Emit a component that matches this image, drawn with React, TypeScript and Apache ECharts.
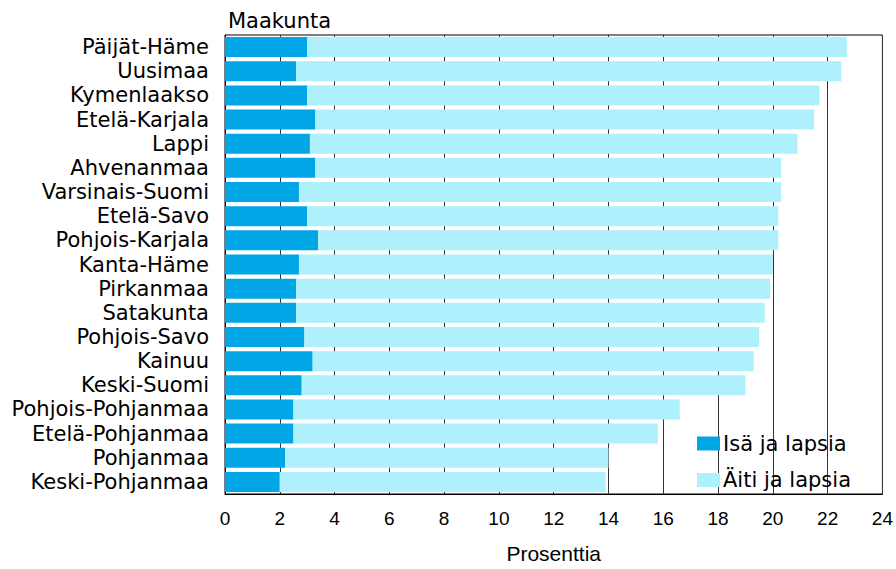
import React, { useEffect, useRef } from "react";
import * as echarts from "echarts";

const categories = [
  "Päijät-Häme",
  "Uusimaa",
  "Kymenlaakso",
  "Etelä-Karjala",
  "Lappi",
  "Ahvenanmaa",
  "Varsinais-Suomi",
  "Etelä-Savo",
  "Pohjois-Karjala",
  "Kanta-Häme",
  "Pirkanmaa",
  "Satakunta",
  "Pohjois-Savo",
  "Kainuu",
  "Keski-Suomi",
  "Pohjois-Pohjanmaa",
  "Etelä-Pohjanmaa",
  "Pohjanmaa",
  "Keski-Pohjanmaa",
];

const isaJaLapsia = [3.0, 2.6, 3.0, 3.3, 3.1, 3.3, 2.7, 3.0, 3.4, 2.7, 2.6, 2.6, 2.9, 3.2, 2.8, 2.5, 2.5, 2.2, 2.0];
const aitiJaLapsia = [19.7, 19.9, 18.7, 18.2, 17.8, 17.0, 17.6, 17.2, 16.8, 17.3, 17.3, 17.1, 16.6, 16.1, 16.2, 14.1, 13.3, 11.8, 11.9];

const xTicks = [0, 2, 4, 6, 8, 10, 12, 14, 16, 18, 20, 22, 24];

const seriesNames = ["Isä ja lapsia", "Äiti ja lapsia"];
const colors = ["#00a6e6", "#aef0fb"];

export default function App() {
  const ref = useRef<HTMLDivElement>(null);

  useEffect(() => {
    if (!ref.current) return;
    const chart = echarts.init(ref.current, undefined, { renderer: "svg" });
    chart.setOption({
      animation: false,
      backgroundColor: "#ffffff",
      title: {
        text: "Maakunta",
        left: 223,
        top: 5,
        textStyle: {
          fontFamily: "DejaVu Sans",
          fontSize: 21,
          fontWeight: "normal",
          color: "#000",
        },
      },
      legend: {
        orient: "vertical",
        left: 692,
        top: 428,
        itemWidth: 23,
        itemHeight: 14,
        itemGap: 15.5,
        icon: "rect",
        data: seriesNames,
        textStyle: {
          fontFamily: "DejaVu Sans",
          fontSize: 21,
          lineHeight: 21,
          color: "#000",
          padding: [0, 0, 0, -2],
        },
      },
      grid: {
        left: 225,
        right: 13,
        top: 35,
        bottom: 73,
        show: true,
        borderColor: "#000",
        borderWidth: 1,
        backgroundColor: "transparent",
      },
      xAxis: {
        type: "value",
        min: 0,
        max: 24,
        interval: 2,
        name: "Prosenttia",
        nameLocation: "middle",
        nameGap: 49,
        nameTextStyle: {
          fontFamily: "Liberation Sans",
          fontSize: 21,
          color: "#000",
        },
        axisLine: { show: true, lineStyle: { color: "#000", width: 1 } },
        axisTick: { show: false },
        axisLabel: {
          margin: 15,
          fontFamily: "Liberation Sans",
          fontSize: 19,
          color: "#000",
          formatter: (v: number) => (xTicks.includes(v) ? String(v) : ""),
        },
        splitLine: { show: true, lineStyle: { color: "#333", width: 1 } },
      },
      yAxis: {
        type: "category",
        data: categories,
        inverse: true,
        axisLine: { show: true, lineStyle: { color: "#000", width: 1 } },
        axisTick: { show: false },
        axisLabel: {
          margin: 16,
          fontFamily: "DejaVu Sans",
          fontSize: 21,
          color: "#000",
          interval: 0,
        },
        splitLine: { show: false },
      },
      series: [
        {
          name: seriesNames[0],
          type: "bar",
          stack: "total",
          data: isaJaLapsia,
          barWidth: 20,
          itemStyle: { color: colors[0] },
        },
        {
          name: seriesNames[1],
          type: "bar",
          stack: "total",
          data: aitiJaLapsia,
          barWidth: 20,
          itemStyle: { color: colors[1] },
        },
      ],
    });
    return () => chart.dispose();
  }, []);

  return (
    <div
      ref={ref}
      style={{ width: 896, height: 569, position: "absolute", left: 0, top: 0 }}
    />
  );
}
